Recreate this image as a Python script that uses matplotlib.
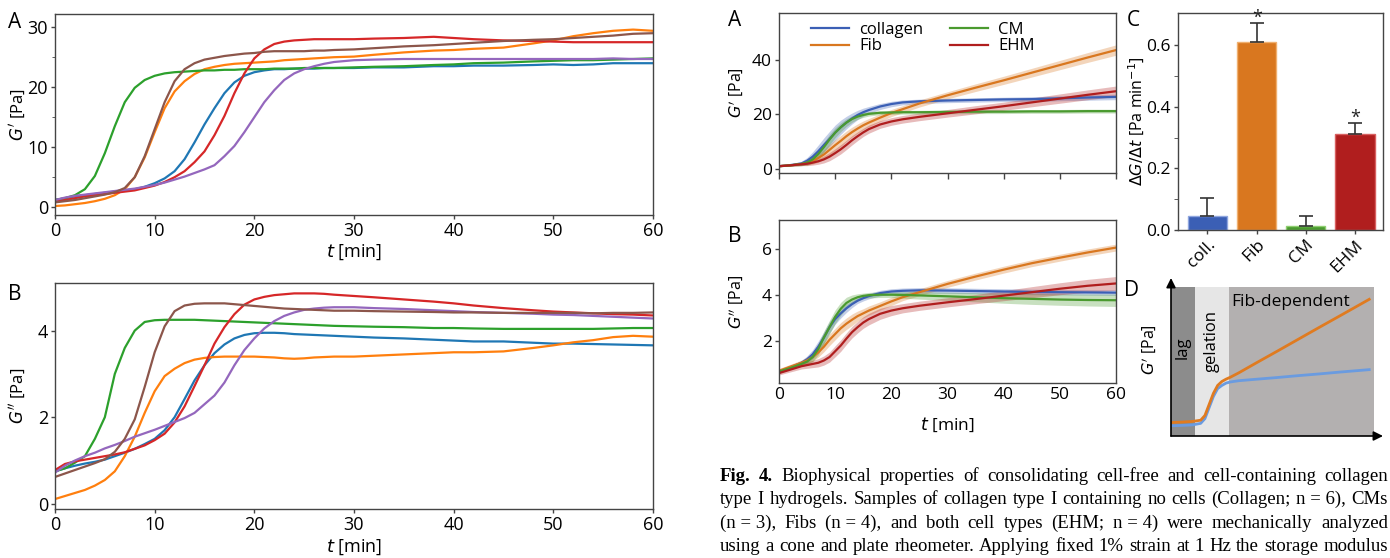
import matplotlib
matplotlib.use('Agg')
import matplotlib.pyplot as plt
from matplotlib.patches import Rectangle

W, H = 1390, 558

# ---------------- data: left panels (single samples, 6 traces) ----------------
t_left = [0, 1, 2, 3, 4, 5, 6, 7, 8, 9, 10, 11, 12, 13, 14, 15, 16, 17, 18, 19, 20,
          21, 22, 23, 24, 25, 26, 27, 28, 30, 32, 35, 38, 40, 42, 45, 48, 50, 52, 54,
          56, 58, 60]

gp_blue = [1.2, 1.5, 1.8, 2.0, 2.2, 2.4, 2.6, 2.8, 3.0, 3.4, 4.0, 4.8, 6.0, 8.0, 10.8,
           13.8, 16.5, 19.0, 20.8, 21.9, 22.5, 22.8, 23.0, 23.0, 23.1, 23.1, 23.1, 23.2,
           23.2, 23.2, 23.3, 23.3, 23.5, 23.5, 23.6, 23.6, 23.7, 23.8, 23.7, 23.8, 24.0,
           24.0, 24.0]
gp_orange = [0.2, 0.3, 0.5, 0.7, 1.0, 1.4, 2.0, 3.0, 5.0, 8.3, 12.5, 16.5, 19.3, 21.0,
             22.2, 23.0, 23.4, 23.7, 23.9, 24.0, 24.1, 24.2, 24.3, 24.5, 24.6, 24.7, 24.8,
             24.9, 25.0, 25.1, 25.4, 25.8, 26.1, 26.2, 26.4, 26.6, 27.3, 27.8, 28.5, 29.0,
             29.4, 29.6, 29.4]
gp_green = [1.2, 1.5, 2.0, 3.0, 5.2, 9.0, 13.5, 17.5, 19.9, 21.2, 21.9, 22.3, 22.5, 22.6,
            22.7, 22.8, 22.8, 22.9, 22.9, 23.0, 23.0, 23.0, 23.1, 23.1, 23.1, 23.2, 23.2,
            23.2, 23.2, 23.3, 23.4, 23.5, 23.7, 23.8, 24.0, 24.1, 24.3, 24.4, 24.5, 24.5,
            24.6, 24.7, 24.8]
gp_red = [0.9, 1.2, 1.5, 1.8, 2.0, 2.2, 2.4, 2.6, 2.8, 3.2, 3.6, 4.2, 5.0, 6.0, 7.5, 9.3,
          12.0, 15.2, 19.0, 22.3, 24.8, 26.3, 27.2, 27.6, 27.8, 27.9, 28.0, 28.0, 28.0,
          28.0, 28.1, 28.2, 28.4, 28.2, 28.0, 27.8, 27.7, 27.6, 27.5, 27.5, 27.5, 27.5, 27.5]
gp_purple = [1.2, 1.6, 1.9, 2.1, 2.3, 2.5, 2.7, 2.9, 3.1, 3.4, 3.7, 4.1, 4.6, 5.1, 5.7,
             6.3, 7.0, 8.5, 10.2, 12.5, 15.0, 17.5, 19.5, 21.2, 22.3, 23.0, 23.5, 23.9,
             24.2, 24.5, 24.6, 24.7, 24.7, 24.7, 24.7, 24.7, 24.7, 24.7, 24.7, 24.7, 24.8,
             24.7, 24.7]
gp_brown = [0.8, 1.0, 1.2, 1.5, 1.8, 2.1, 2.5, 3.2, 5.0, 8.5, 13.0, 17.5, 21.0, 23.0, 24.0,
            24.6, 24.9, 25.2, 25.4, 25.6, 25.7, 25.9, 26.0, 26.0, 26.0, 26.0, 26.1, 26.1,
            26.2, 26.3, 26.5, 26.8, 27.0, 27.2, 27.4, 27.7, 27.9, 28.0, 28.2, 28.4, 28.6,
            28.9, 29.0]

gpp_blue = [0.75, 0.82, 0.88, 0.93, 0.97, 1.02, 1.1, 1.18, 1.27, 1.38, 1.5, 1.7, 2.0, 2.42,
            2.85, 3.2, 3.48, 3.68, 3.82, 3.9, 3.94, 3.95, 3.95, 3.94, 3.92, 3.91, 3.9, 3.89,
            3.88, 3.86, 3.84, 3.82, 3.79, 3.77, 3.75, 3.75, 3.72, 3.7, 3.7, 3.69, 3.68,
            3.67, 3.66]
gpp_orange = [0.11, 0.18, 0.25, 0.32, 0.42, 0.55, 0.75, 1.1, 1.55, 2.1, 2.6, 2.95, 3.12,
              3.25, 3.33, 3.37, 3.39, 3.4, 3.4, 3.4, 3.4, 3.39, 3.38, 3.36, 3.35, 3.36, 3.38,
              3.39, 3.4, 3.4, 3.42, 3.45, 3.48, 3.5, 3.5, 3.52, 3.6, 3.66, 3.73, 3.78, 3.85,
              3.88, 3.86]
gpp_green = [0.75, 0.82, 0.95, 1.1, 1.5, 2.0, 3.0, 3.6, 4.0, 4.2, 4.24, 4.25, 4.25, 4.25,
             4.25, 4.24, 4.23, 4.22, 4.21, 4.2, 4.19, 4.18, 4.17, 4.16, 4.15, 4.14, 4.13,
             4.12, 4.11, 4.1, 4.09, 4.08, 4.06, 4.06, 4.05, 4.04, 4.04, 4.04, 4.04, 4.04,
             4.05, 4.06, 4.06]
gpp_red = [0.78, 0.92, 0.98, 1.02, 1.06, 1.1, 1.14, 1.19, 1.27, 1.35, 1.47, 1.62, 1.88,
           2.25, 2.72, 3.2, 3.7, 4.08, 4.38, 4.6, 4.72, 4.78, 4.82, 4.84, 4.86, 4.86, 4.86,
           4.85, 4.83, 4.8, 4.77, 4.72, 4.67, 4.63, 4.58, 4.52, 4.47, 4.44, 4.42, 4.4, 4.38,
           4.37, 4.35]
gpp_purple = [0.72, 0.88, 1.0, 1.1, 1.18, 1.28, 1.36, 1.45, 1.55, 1.63, 1.71, 1.8, 1.89,
              1.98, 2.1, 2.3, 2.5, 2.8, 3.2, 3.55, 3.82, 4.05, 4.22, 4.34, 4.42, 4.48, 4.51,
              4.53, 4.54, 4.54, 4.52, 4.5, 4.47, 4.45, 4.43, 4.41, 4.39, 4.37, 4.36, 4.34,
              4.32, 4.3, 4.28]
gpp_brown = [0.62, 0.7, 0.78, 0.86, 0.94, 1.03, 1.2, 1.5, 1.95, 2.7, 3.5, 4.1, 4.45, 4.58,
             4.62, 4.63, 4.63, 4.63, 4.61, 4.59, 4.57, 4.55, 4.53, 4.51, 4.5, 4.49, 4.48,
             4.47, 4.46, 4.46, 4.45, 4.44, 4.43, 4.42, 4.42, 4.41, 4.41, 4.41, 4.41, 4.4,
             4.41, 4.41, 4.42]

left_colors = ['#1f77b4', '#ff7f0e', '#2ca02c', '#d62728', '#9467bd', '#8c564b']

# ---------------- data: middle panels (mean +- sd per group) ----------------
t_mid = [0, 2, 4, 5, 6, 7, 8, 9, 10, 11, 12, 13, 14, 15, 16, 18, 20, 22, 25, 30, 35,
         40, 45, 50, 55, 60]
groups = ['collagen', 'Fib', 'CM', 'EHM']
group_colors = ['#3b5fb5', '#d9771f', '#4a9a2f', '#b01e1e']

gp_mean = {
    'collagen': [1.0, 1.4, 2.0, 3.0, 4.5, 6.5, 8.8, 11.0, 13.3, 15.3, 17.0, 18.5, 19.8,
                 20.8, 21.6, 22.9, 23.8, 24.4, 24.8, 25.1, 25.3, 25.5, 25.6, 25.9, 26.2, 26.4],
    'Fib': [1.0, 1.3, 1.8, 2.3, 3.0, 4.0, 5.3, 7.0, 8.7, 10.3, 12.0, 13.5, 14.8, 16.0, 17.0,
            18.8, 20.5, 21.9, 24.0, 27.0, 29.8, 32.5, 35.3, 38.1, 40.9, 43.6],
    'CM': [1.0, 1.3, 1.8, 2.3, 3.5, 5.5, 8.0, 10.8, 13.3, 15.3, 17.0, 18.3, 19.2, 19.8,
           20.2, 20.6, 20.7, 20.8, 20.8, 20.9, 21.0, 21.0, 21.1, 21.1, 21.2, 21.2],
    'EHM': [1.0, 1.3, 1.7, 1.9, 2.3, 2.8, 3.5, 4.5, 5.8, 7.2, 8.8, 10.5, 12.0, 13.4, 14.6,
            16.3, 17.4, 18.2, 19.1, 20.4, 21.7, 23.0, 24.4, 25.8, 27.2, 28.5],
}
gp_sd = {
    'collagen': [0.2, 0.3, 0.8, 1.2, 1.8, 2.3, 2.6, 2.8, 2.8, 2.6, 2.3, 2.0, 1.7, 1.5, 1.3,
                 1.1, 1.0, 0.9, 0.8, 0.8, 0.8, 0.8, 0.9, 0.9, 1.0, 1.0],
    'Fib': [0.2, 0.3, 0.6, 0.9, 1.2, 1.5, 1.8, 2.0, 2.0, 2.0, 1.9, 1.8, 1.7, 1.6, 1.5, 1.4,
            1.3, 1.3, 1.3, 1.3, 1.4, 1.5, 1.6, 1.7, 1.8, 1.9],
    'CM': [0.2, 0.3, 0.6, 0.9, 1.3, 1.6, 1.8, 1.9, 1.8, 1.6, 1.4, 1.2, 1.0, 0.9, 0.8, 0.7,
           0.7, 0.7, 0.7, 0.7, 0.7, 0.7, 0.7, 0.7, 0.7, 0.7],
    'EHM': [0.2, 0.3, 0.5, 0.7, 0.9, 1.1, 1.3, 1.5, 1.6, 1.7, 1.7, 1.7, 1.6, 1.5, 1.5, 1.4,
            1.4, 1.4, 1.4, 1.4, 1.5, 1.5, 1.6, 1.7, 1.8, 1.9],
}
gpp_mean = {
    'collagen': [0.67, 0.85, 1.05, 1.2, 1.42, 1.75, 2.15, 2.6, 2.95, 3.2, 3.42, 3.6, 3.75,
                 3.86, 3.95, 4.08, 4.15, 4.18, 4.2, 4.19, 4.17, 4.15, 4.13, 4.12, 4.11, 4.1],
    'Fib': [0.7, 0.88, 1.05, 1.15, 1.3, 1.5, 1.75, 2.05, 2.3, 2.55, 2.75, 2.92, 3.08, 3.2,
            3.32, 3.52, 3.72, 3.9, 4.12, 4.48, 4.8, 5.1, 5.38, 5.62, 5.85, 6.06],
    'CM': [0.67, 0.82, 1.0, 1.1, 1.3, 1.65, 2.15, 2.6, 3.05, 3.4, 3.65, 3.8, 3.9, 3.96, 3.99,
           4.01, 4.01, 4.0, 3.98, 3.94, 3.9, 3.86, 3.83, 3.8, 3.78, 3.77],
    'EHM': [0.6, 0.75, 0.9, 0.95, 1.0, 1.05, 1.15, 1.3, 1.55, 1.8, 2.1, 2.38, 2.6, 2.8, 2.95,
            3.18, 3.32, 3.42, 3.53, 3.68, 3.82, 3.97, 4.12, 4.27, 4.4, 4.5],
}
gpp_sd = {
    'collagen': [0.05, 0.06, 0.1, 0.15, 0.2, 0.25, 0.25, 0.25, 0.22, 0.2, 0.18, 0.15, 0.12,
                 0.12, 0.12, 0.12, 0.12, 0.12, 0.12, 0.12, 0.12, 0.12, 0.12, 0.12, 0.12, 0.12],
    'Fib': [0.1, 0.1, 0.12, 0.15, 0.18, 0.2, 0.22, 0.25, 0.25, 0.25, 0.25, 0.25, 0.22, 0.2,
            0.2, 0.18, 0.18, 0.15, 0.15, 0.15, 0.15, 0.15, 0.15, 0.15, 0.15, 0.15],
    'CM': [0.05, 0.06, 0.1, 0.15, 0.2, 0.25, 0.28, 0.3, 0.3, 0.28, 0.25, 0.2, 0.15, 0.12,
           0.12, 0.12, 0.12, 0.14, 0.16, 0.18, 0.2, 0.22, 0.24, 0.25, 0.26, 0.27],
    'EHM': [0.08, 0.1, 0.12, 0.14, 0.16, 0.18, 0.2, 0.22, 0.24, 0.25, 0.25, 0.25, 0.25, 0.25,
            0.25, 0.24, 0.22, 0.2, 0.2, 0.2, 0.2, 0.22, 0.24, 0.26, 0.28, 0.3],
}

# ---------------- data: panel C (slopes) ----------------
c_labels = ['coll.', 'Fib', 'CM', 'EHM']
c_means = [0.045, 0.609, 0.013, 0.310]
c_err = [0.059, 0.062, 0.032, 0.037]
c_signif = [False, True, False, True]
c_edge = ['#8fa6df', '#f0b070', '#8fcf70', '#d86060']

# ---------------- data: panel D (schematic) ----------------
d_x = [0.0, 0.05, 0.10, 0.14, 0.16, 0.18, 0.20, 0.22, 0.24, 0.26, 0.28, 0.32, 0.40, 0.50,
       0.60, 0.70, 0.80, 0.935]
d_fib = [0.085, 0.088, 0.092, 0.10, 0.13, 0.20, 0.27, 0.32, 0.345, 0.36, 0.372, 0.40,
         0.461, 0.536, 0.612, 0.688, 0.763, 0.865]
d_coll = [0.065, 0.067, 0.07, 0.08, 0.11, 0.18, 0.25, 0.30, 0.32, 0.335, 0.342, 0.35,
          0.359, 0.37, 0.382, 0.393, 0.405, 0.42]
d_regions = [('lag', 0.0, 0.113, '#8c8c8c'), ('gelation', 0.113, 0.274, '#e6e6e6'),
             ('Fib-dependent', 0.274, 0.958, '#b3b0b0')]

caption_lines = [
    "Fig. 4. Biophysical properties of consolidating cell-free and cell-containing collagen",
    "type I hydrogels. Samples of collagen type I containing no cells (Collagen; n~=~6), CMs",
    "(n~=~3), Fibs (n~=~4), and both cell types (EHM; n~=~4) were mechanically analyzed",
    "using a cone and plate rheometer. Applying fixed 1% strain at 1 Hz the storage modulus",
]

SANS = ['Open Sans', 'DejaVu Sans']
NARROW = ['Liberation Sans Narrow', 'Open Sans', 'DejaVu Sans']
SERIF = ['Liberation Serif', 'DejaVu Serif']
plt.rcParams['font.family'] = SANS
plt.rcParams['mathtext.fontset'] = 'dejavusans'
spine_col = '#444444'


def box(x0, y0, x1, y1):
    return [x0 / W, 1 - y1 / H, (x1 - x0) / W, (y1 - y0) / H]


def style_axes(ax, size, fam):
    for s in ax.spines.values():
        s.set_color(spine_col)
        s.set_linewidth(1.0)
    ax.tick_params(direction='out', length=3, width=1, color=spine_col,
                   labelsize=size, pad=2)
    for lab in ax.get_xticklabels() + ax.get_yticklabels():
        lab.set_family(fam)


fig = plt.figure(figsize=(W / 100, H / 100), dpi=100)

# ---- left A ----
ax = fig.add_axes(box(55, 14, 653, 215))
for ys, c in zip([gp_blue, gp_orange, gp_green, gp_red, gp_purple, gp_brown], left_colors):
    ax.plot(t_left, ys, color=c, lw=1.6)
ax.set_xlim(0, 60)
ax.set_ylim(-1.3, 32.2)
ax.set_xticks(range(0, 61, 10))
ax.set_yticks([0, 10, 20, 30])
ax.set_yticks([5, 15, 25], minor=True)
ax.tick_params(which='minor', length=2, color=spine_col)
style_axes(ax, 13, NARROW)
ax.set_xlabel(r"$t$ [min]", fontsize=13, family=NARROW)
ax.set_ylabel(r"$G'$ [Pa]", fontsize=12, family=NARROW)
ax.xaxis.set_label_coords(0.5, -0.135)
ax.yaxis.set_label_coords(-0.045, 0.5)

# ---- left B ----
ax = fig.add_axes(box(55, 283, 653, 509))
for ys, c in zip([gpp_blue, gpp_orange, gpp_green, gpp_red, gpp_purple, gpp_brown], left_colors):
    ax.plot(t_left, ys, color=c, lw=1.6)
ax.set_xlim(0, 60)
ax.set_ylim(-0.12, 5.1)
ax.set_xticks(range(0, 61, 10))
ax.set_yticks([0, 2, 4])
style_axes(ax, 13, NARROW)
ax.set_xlabel(r"$t$ [min]", fontsize=13, family=NARROW)
ax.set_ylabel(r"$G''$ [Pa]", fontsize=12, family=NARROW)
ax.xaxis.set_label_coords(0.5, -0.125)
ax.yaxis.set_label_coords(-0.045, 0.5)

# ---- middle A ----
ax = fig.add_axes(box(779, 13, 1116, 173))
for g, c in zip(groups, group_colors):
    lo = [m - s for m, s in zip(gp_mean[g], gp_sd[g])]
    hi = [m + s for m, s in zip(gp_mean[g], gp_sd[g])]
    ax.fill_between(t_mid, lo, hi, color=c, alpha=0.3, lw=0)
for g, c in zip(groups, group_colors):
    ax.plot(t_mid, gp_mean[g], color=c, lw=1.6, label=g)
ax.set_xlim(0, 60)
ax.set_ylim(-1.5, 57.2)
ax.set_xticks(range(0, 61, 10))
ax.set_xticklabels([])
ax.set_yticks([0, 20, 40])
style_axes(ax, 12.5, SANS)
ax.tick_params(axis='x', length=4)
ax.set_ylabel(r"$G'$ [Pa]", fontsize=11.5)
ax.yaxis.set_label_coords(-0.10, 0.5)
ax.legend(ncol=2, loc='upper left', bbox_to_anchor=(0.05, 1.04), frameon=False,
          fontsize=12, handlelength=2.3, columnspacing=1.6, labelspacing=0.05,
          handletextpad=0.6)

# ---- middle B ----
ax = fig.add_axes(box(779, 220, 1116, 383))
for g, c in zip(groups, group_colors):
    lo = [m - s for m, s in zip(gpp_mean[g], gpp_sd[g])]
    hi = [m + s for m, s in zip(gpp_mean[g], gpp_sd[g])]
    ax.fill_between(t_mid, lo, hi, color=c, alpha=0.3, lw=0)
for g, c in zip(groups, group_colors):
    ax.plot(t_mid, gpp_mean[g], color=c, lw=1.6)
ax.set_xlim(0, 60)
ax.set_ylim(0.17, 7.26)
ax.set_xticks(range(0, 61, 10))
ax.set_yticks([2, 4, 6])
style_axes(ax, 12.5, SANS)
ax.tick_params(axis='x', length=0, pad=3)
ax.set_xlabel(r"$t$ [min]", fontsize=12.5)
ax.set_ylabel(r"$G''$ [Pa]", fontsize=11.5)
ax.xaxis.set_label_coords(0.5, -0.2)
ax.yaxis.set_label_coords(-0.10, 0.5)

# ---- C ----
ax = fig.add_axes(box(1178, 13, 1383, 230))
xs = list(range(len(c_labels)))
ax.bar(xs, c_means, width=0.8, color=group_colors, edgecolor=c_edge, linewidth=1)
ax.errorbar(xs, c_means, yerr=[[0] * len(c_err), c_err], fmt='none', ecolor='#333333',
            elinewidth=1.2, capsize=5, capthick=1.2)
for x, m, e, s in zip(xs, c_means, c_err, c_signif):
    if s:
        ax.text(x, m + e - 0.012, '*', ha='center', va='bottom', fontsize=13, color='#222222')
ax.set_xlim(-0.6, 3.57)
ax.set_ylim(0, 0.704)
ax.set_xticks(xs)
ax.set_xticklabels(c_labels)
ax.set_yticks([0.0, 0.2, 0.4, 0.6])
ax.set_yticks([0.1, 0.3, 0.5], minor=True)
style_axes(ax, 12.5, SANS)
ax.tick_params(which='minor', length=3, color=spine_col)
for lab in ax.get_xticklabels():
    lab.set_rotation(45)
    lab.set_ha('right')
    lab.set_rotation_mode('anchor')
ax.set_ylabel(r"$\Delta G/\Delta t$ [Pa min$^{-1}$]", fontsize=11.5)
ax.yaxis.set_label_coords(-0.151, 0.5)

# ---- D ----
ax = fig.add_axes(box(1171, 278, 1383, 436))
ax.set_xlim(0, 1)
ax.set_ylim(0, 1)
ax.axis('off')
for name, x0, x1, col in d_regions:
    ax.add_patch(Rectangle((x0, 0), x1 - x0, 0.943, color=col, lw=0, zorder=0))
ax.plot(d_x, d_coll, color='#6a9be0', lw=2)
ax.plot(d_x, d_fib, color='#e07b20', lw=2)
ax.annotate('', xy=(0, 1.0), xytext=(0, 0), xycoords='axes fraction',
            arrowprops=dict(arrowstyle='-|>', color='black', lw=1.2,
                            shrinkA=0, shrinkB=0, mutation_scale=14))
ax.annotate('', xy=(1.0, 0), xytext=(0, 0), xycoords='axes fraction',
            arrowprops=dict(arrowstyle='-|>', color='black', lw=1.2,
                            shrinkA=0, shrinkB=0, mutation_scale=14))
ax.text(0.056, 0.56, 'lag', rotation=90, ha='center', va='center', fontsize=12)
ax.text(0.19, 0.60, 'gelation', rotation=90, ha='center', va='center', fontsize=12)
ax.text(0.286, 0.85, 'Fib-dependent', ha='left', va='center', fontsize=12.5)
fig.text(1149 / W, 1 - 350 / H, r"$G'$ [Pa]", rotation=90, ha='center', va='center',
         fontsize=11.5)

# ---- panel letters ----
for lab, x, y in [('A', 15, 23), ('B', 15, 295), ('A', 735, 21), ('B', 735, 236),
                  ('C', 1133, 20), ('D', 1132, 290)]:
    fig.text(x / W, 1 - y / H, lab, ha='center', va='center', fontsize=15)

# ---- caption (justified) ----
fig.canvas.draw()
renderer = fig.canvas.get_renderer()
x_left, x_right = 720, 1388
span = x_right - x_left

# pick a size so the longest line just fits with normal spacing
cap_fs = 12.5
probe = [fig.text(0, 0, ln.replace('~', ' '), fontsize=cap_fs, family=SERIF) for ln in caption_lines]
widest = max(p.get_window_extent(renderer).width for p in probe)
for p in probe:
    p.remove()
cap_fs = min(13.5, cap_fs * (span - 6) / widest)

for i, line in enumerate(caption_lines):
    words = line.split(' ')
    texts = []
    for j, w in enumerate(words):
        bold = (i == 0 and j < 2)
        texts.append(fig.text(0, 0, w.replace('~', ' '), fontsize=cap_fs, family=SERIF,
                              weight='bold' if bold else 'normal', va='baseline'))
    widths = [t.get_window_extent(renderer).width for t in texts]
    gap = (span - sum(widths)) / (len(words) - 1)
    x = x_left
    y = 481 + 23.3 * i
    for t, wd in zip(texts, widths):
        t.set_position((x / W, 1 - y / H))
        x += wd + gap

fig.savefig('out.png', dpi=100)
